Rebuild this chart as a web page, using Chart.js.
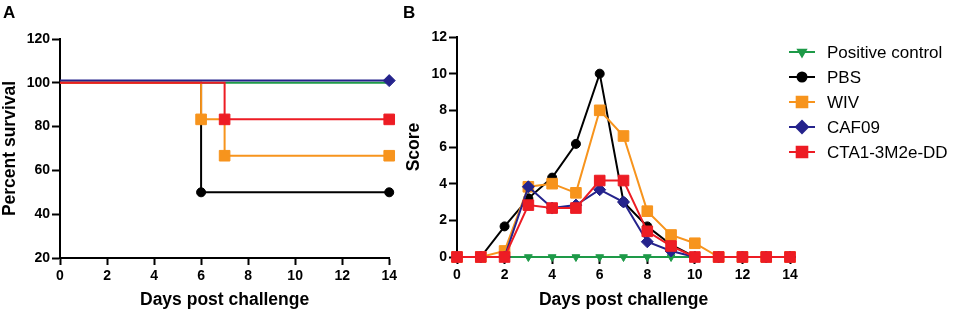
<!DOCTYPE html>
<html>
<head>
<meta charset="utf-8">
<script src="https://cdn.jsdelivr.net/npm/chart.js@4.4.1/dist/chart.umd.min.js"></script>
<style>
  body { margin: 0; background: #fff; }
  #wrap { position: relative; width: 957px; height: 314px; overflow: hidden; }
  canvas { position: absolute; top: 0; }
  .panel { position: absolute; top: 3px; font: bold 17px "Liberation Sans", Arial, sans-serif; }
</style>
</head>
<body>
<div id="wrap">
  <canvas id="survival" width="400" height="314" style="left:0;width:400px;height:314px"></canvas>
  <canvas id="score" width="557" height="314" style="left:400px;width:557px;height:314px"></canvas>
  <div class="panel" style="left:3px">A</div>
  <div class="panel" style="left:403px">B</div>
</div>
<script>
// group names and colours
const groups = ['Positive control', 'PBS', 'WIV', 'CAF09', 'CTA1-3M2e-DD'];
const colors = ['#1e9a48', '#000000', '#f7941d', '#25238c', '#ed1c24'];

// panel A: survival steps (day, percent)
const survDaysPos = [0, 14];       const survPos = [100, 100];
const survDaysPbs = [0, 6, 14];    const survPbs = [100, 50, 50];
const survDaysWiv = [0, 6, 7, 14]; const survWiv = [100, 83.3, 66.7, 66.7];
const survDaysCaf = [0, 14];       const survCaf = [101, 101];
const survDaysCta = [0, 7, 14];    const survCta = [100, 83.3, 83.3];

// panel B: daily scores, days 0..14
const days = [0, 1, 2, 3, 4, 5, 6, 7, 8, 9, 10, 11, 12, 13, 14];
const scorePos = [0, 0, 0, 0, 0, 0, 0, 0, 0, 0, 0, 0, 0, 0, 0];
const scorePbs = [0, 0, 1.67, 3.2, 4.33, 6.17, 10, 3.0, 1.67, 0.67, 0, 0, 0, 0, 0];
const scoreWiv = [0, 0, 0.33, 3.83, 4.0, 3.5, 8.0, 6.6, 2.5, 1.2, 0.75, 0, 0, 0, 0];
const scoreCaf = [0, 0, 0, 3.83, 2.67, 2.83, 3.67, 3.0, 0.83, 0.33, 0, 0, 0, 0, 0];
const scoreCta = [0, 0, 0, 2.83, 2.67, 2.67, 4.17, 4.17, 1.4, 0.6, 0, 0, 0, 0, 0];

const pointStyles = ['triangle', 'circle', 'rect', 'rectRot', 'rect'];
const pointRadii = [4.5, 4.5, 7.5, 6, 7.5];
const rotations = [180, 0, 0, 0, 0];
const drawOrder = [3, 4, 2, 1, 0];

const FONT = '"Liberation Sans", Arial, sans-serif';
Chart.defaults.font.family = FONT;
Chart.defaults.color = '#000';

const toXY = (xs, ys) => xs.map((x, i) => ({ x: x, y: ys[i] }));

function makeSet(i, xs, ys, radii, extra) {
  return Object.assign({
    label: groups[i],
    data: toXY(xs, ys),
    borderColor: colors[i],
    backgroundColor: colors[i],
    borderWidth: 2,
    pointStyle: pointStyles[i],
    pointRotation: rotations[i],
    pointRadius: radii,
    pointBorderWidth: 1,
    pointBorderColor: colors[i],
    pointBackgroundColor: colors[i],
    order: drawOrder[i],
    clip: false
  }, extra || {});
}

function axis(min, max, step, title, fixed, isX) {
  return {
    type: 'linear',
    min: min, max: max,
    ticks: { stepSize: step, padding: isX ? 3 : 2, font: { size: 14, weight: 'bold' }, color: '#000' },
    grid: { drawOnChartArea: false, drawTicks: true, tickLength: isX ? 7 : 8, tickWidth: 2, tickColor: '#000' },
    border: { display: true, color: '#000', width: 2 },
    title: { display: true, text: title, font: { size: 17.5, weight: 'bold' }, color: '#000',
             padding: isX ? { top: 0, bottom: 3 } : { top: 0, bottom: 0 } },
    afterFit: s => { if (isX) s.height = fixed; else s.width = fixed; }
  };
}

// panel A
const rad = (xs, r) => xs.map((x, i) => i === 0 ? 0 : r);
new Chart(document.getElementById('survival'), {
  type: 'line',
  data: {
    datasets: [
      makeSet(0, survDaysPos, survPos, rad(survDaysPos, 0), { stepped: true }),
      makeSet(1, survDaysPbs, survPbs, rad(survDaysPbs, 4.5), { stepped: true }),
      makeSet(2, survDaysWiv, survWiv, rad(survDaysWiv, 7.5), { stepped: true }),
      makeSet(3, survDaysCaf, survCaf, rad(survDaysCaf, 6), { stepped: true }),
      makeSet(4, survDaysCta, survCta, rad(survDaysCta, 7.5), { stepped: true })
    ]
  },
  options: {
    responsive: false,
    animation: false,
    layout: { padding: { left: 0, right: 10, top: 39, bottom: 0 } },
    plugins: { legend: { display: false }, tooltip: { enabled: false } },
    scales: {
      x: axis(0, 14, 2, 'Days post challenge', 56, true),
      y: axis(20, 120, 20, 'Percent survival', 60, false)
    }
  }
});

// side legend drawn on the score canvas
const sideLegend = {
  id: 'sideLegend',
  afterDraw(chart) {
    const ctx = chart.ctx;
    ctx.save();
    chart.data.datasets.forEach((ds, i) => {
      const y = 52 + i * 25;
      ctx.strokeStyle = ds.borderColor;
      ctx.lineWidth = 2;
      ctx.beginPath();
      ctx.moveTo(389, y);
      ctx.lineTo(415, y);
      ctx.stroke();
      ctx.fillStyle = ds.backgroundColor;
      Chart.helpers.drawPoint(ctx, {
        pointStyle: ds.pointStyle, rotation: ds.pointRotation,
        radius: ds.pointRadius, borderWidth: 1
      }, 402, y);
      ctx.fillStyle = '#000';
      ctx.font = '17px ' + FONT;
      ctx.textBaseline = 'middle';
      ctx.fillText(ds.label, 427, y + 1);
    });
    ctx.restore();
  }
};

// panel B
new Chart(document.getElementById('score'), {
  type: 'line',
  data: {
    datasets: [
      makeSet(0, days, scorePos, pointRadii[0]),
      makeSet(1, days, scorePbs, pointRadii[1]),
      makeSet(2, days, scoreWiv, pointRadii[2]),
      makeSet(3, days, scoreCaf, pointRadii[3]),
      makeSet(4, days, scoreCta, pointRadii[4])
    ]
  },
  options: {
    responsive: false,
    animation: false,
    layout: { padding: { left: 4, right: 167, top: 37, bottom: 0 } },
    plugins: { legend: { display: false }, tooltip: { enabled: false } },
    scales: {
      x: axis(0, 14, 2, 'Days post challenge', 57, true),
      y: axis(0, 12, 2, 'Score', 53, false)
    }
  },
  plugins: [sideLegend]
});
</script>
</body>
</html>
